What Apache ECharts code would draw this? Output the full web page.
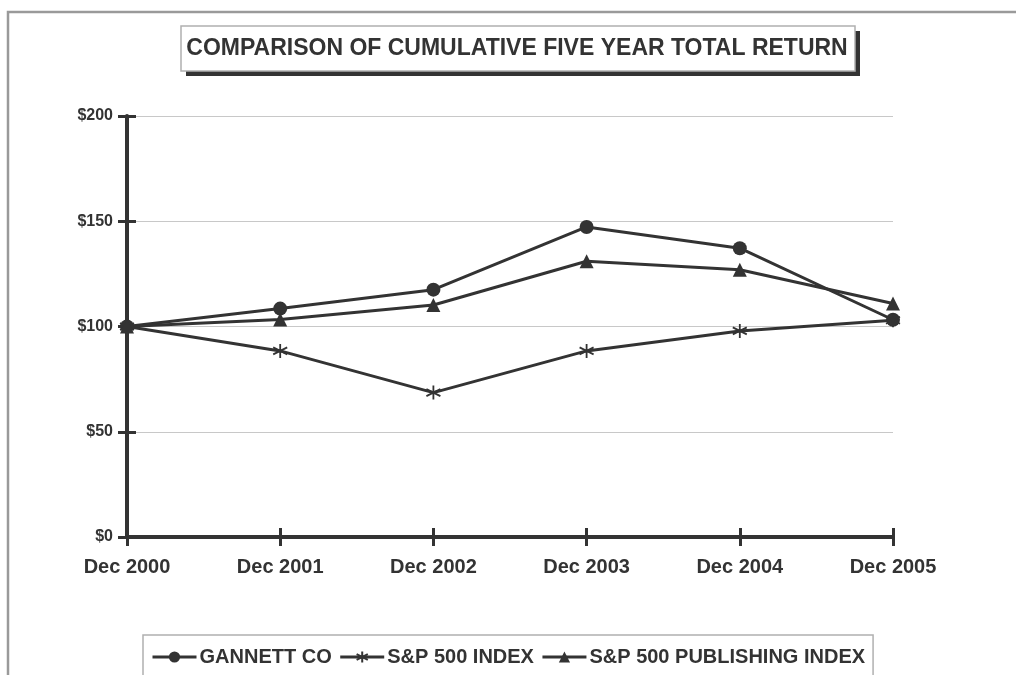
<!DOCTYPE html>
<html>
<head>
<meta charset="utf-8">
<script src="https://cdn.jsdelivr.net/npm/echarts@6/dist/echarts.min.js"></script>
<style>
html,body{margin:0;padding:0;background:#fff;}
#chart{width:1016px;height:675px;}
</style>
</head>
<body>
<div id="chart"></div>
<script>
const categories = ['Dec 2000','Dec 2001','Dec 2002','Dec 2003','Dec 2004','Dec 2005'];
const gannett = [100, 108.5, 117.5, 147.3, 137.2, 103.2];
const sp500 = [100, 88.4, 68.6, 88.4, 97.9, 103.0];
const publishing = [100, 103.3, 110.2, 131.0, 127.0, 110.9];
const yTicks = [0, 50, 100, 150, 200];
const titleText = 'COMPARISON OF CUMULATIVE FIVE YEAR TOTAL RETURN';

const INK = '#333333';
const FONT = '"Liberation Sans", Arial, sans-serif';
const asterisk = 'path://M0,-10L0,10M-8.66,-5L8.66,5M-8.66,5L8.66,-5';

const chart = echarts.init(document.getElementById('chart'), null, {renderer:'canvas'});

function mkSeries(name, data, symbol, size) {
  return {
    name, type:'line', data, symbol, symbolSize:size,
    showSymbol:true, xAxisIndex:0, yAxisIndex:0,
    lineStyle:{color:INK, width:3},
    itemStyle:{color:INK, borderColor:INK, borderWidth: symbol===asterisk?1.8:0},
    emphasis:{disabled:true}, animation:false, z:5
  };
}

chart.setOption({
  animation:false,
  backgroundColor:'#fff',
  legend:{
    bottom:-12, left:143,
    padding:[12, 8, 20, 8],
    borderColor:'#b0b0b0', borderWidth:1.5,
    itemWidth:44, itemHeight:14, itemGap:7,
    lineStyle:{width:3, color:INK},
    textStyle:{fontFamily:FONT, fontWeight:'bold', fontSize:20, color:INK, padding:[0,0,0,-2]},
    data:['GANNETT CO','S&P 500 INDEX','S&P 500 PUBLISHING INDEX']
  },
  grid:{left:127, right:123, top:116, bottom:138, containLabel:false},
  xAxis:[{
    type:'category', data:categories, boundaryGap:false,
    axisLine:{show:true, lineStyle:{color:INK, width:4}},
    axisTick:{show:true, inside:false, length:9, lineStyle:{color:INK, width:3}},
    axisLabel:{fontFamily:FONT, fontWeight:'bold', fontSize:20, color:INK, margin:20},
    splitLine:{show:false}
  },{
    type:'category', data:categories, boundaryGap:false, position:'bottom',
    axisLine:{show:false},
    axisTick:{show:true, inside:true, length:9, lineStyle:{color:INK, width:3}},
    axisLabel:{show:false}, splitLine:{show:false}
  }],
  yAxis:[{
    type:'value', min:0, max:200, interval:50,
    axisLine:{show:true, lineStyle:{color:INK, width:4}},
    axisTick:{show:true, inside:false, length:9, lineStyle:{color:INK, width:3}},
    axisLabel:{fontFamily:FONT, fontWeight:'bold', fontSize:16, color:INK, margin:14,
      formatter:v => yTicks.includes(v) ? '$' + v : ''},
    splitLine:{show:true, lineStyle:{color:'#c8c8c8', width:1}}
  },{
    type:'value', min:0, max:200, interval:50, position:'left',
    axisLine:{show:false},
    axisTick:{show:true, inside:true, length:9, lineStyle:{color:INK, width:3}},
    axisLabel:{show:false}, splitLine:{show:false}
  }],
  series:[
    mkSeries('GANNETT CO', gannett, 'circle', 14),
    mkSeries('S&P 500 INDEX', sp500, asterisk, 14),
    mkSeries('S&P 500 PUBLISHING INDEX', publishing, 'triangle', 14)
  ],
  graphic:[
    {type:'polyline', shape:{points:[[8,675],[8,12],[1016,12]]},
     style:{stroke:'#9a9a9a', lineWidth:2.5, fill:null}, silent:true},
    {type:'rect', shape:{x:186, y:31, width:674, height:45},
     style:{fill:'#333'}, silent:true, z:10},
    {type:'rect', shape:{x:181, y:26, width:674, height:45},
     style:{fill:'#fff', stroke:'#b0b0b0', lineWidth:1.5}, silent:true, z:11},
    {type:'text', x:517, y:49, z:12, silent:true,
     style:{text:titleText, fill:INK, font:'bold 23px "Liberation Sans", Arial, sans-serif',
       textAlign:'center', textVerticalAlign:'middle'}}
  ]
});
</script>
</body>
</html>
